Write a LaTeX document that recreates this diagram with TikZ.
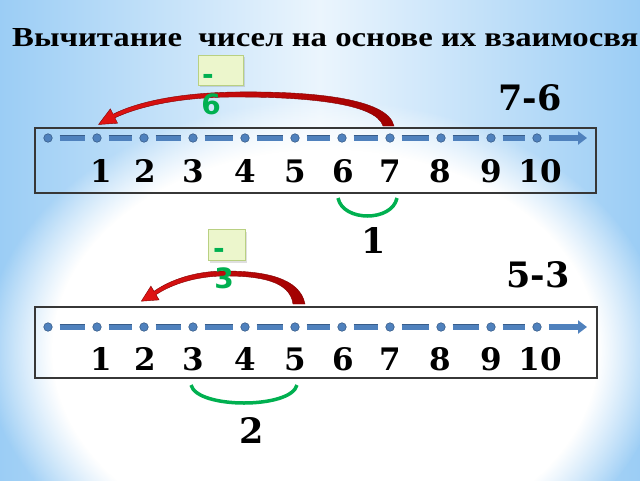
\documentclass[tikz,border=0pt]{standalone}
\usepackage{fontspec}
\setmainfont{Liberation Serif}
\newfontfamily\numfont{DejaVu Serif}
\newfontfamily\lblfont{DejaVu Sans}
\usetikzlibrary{fadings,arrows.meta,shadows}
\definecolor{bgblue}{RGB}{155,205,245}
\definecolor{linebl}{RGB}{79,129,189}
\definecolor{linebd}{RGB}{56,93,138}
\definecolor{grn}{RGB}{0,176,80}
\definecolor{arrred}{RGB}{160,0,0}
\definecolor{arrlight}{RGB}{225,20,20}
\definecolor{boxfill}{RGB}{236,246,204}
\definecolor{boxdraw}{RGB}{185,208,130}
\definecolor{frame}{RGB}{55,55,55}
\tikzset{
  dotnode/.style={circle, fill=linebl, draw=linebd, line width=0.6pt, inner sep=0pt, minimum size=8.5pt},
  barline/.style={draw=linebd, double=linebl, double distance=5pt, line width=0.6pt, shorten <=7pt, shorten >=7pt},
  lastbar/.style={draw=linebl, line width=6pt, shorten <=7pt, -{Triangle[length=9pt,width=13pt]}},
  numtxt/.style={anchor=base, inner sep=0pt, font=\numfont\bfseries\fontsize{31}{36}\selectfont},
  bigtxt/.style={anchor=base, inner sep=0pt, font=\numfont\bfseries\fontsize{35}{40}\selectfont},
  framebox/.style={draw=frame, line width=1.3pt, rectangle, inner sep=0pt},
  lblbox/.style={draw=boxdraw, fill=boxfill, line width=0.8pt, rectangle, inner sep=0pt, drop shadow={opacity=0.25}},
  grntxt/.style={anchor=base, inner sep=0pt, text=grn, font=\lblfont\bfseries\fontsize{28}{32}\selectfont},
  bracket/.style={draw=grn, line width=3.5pt},
  redarrow/.style={left color=arrlight, right color=arrred, draw=arrred!80!black, line width=0.4pt},
}
\begin{document}
\begin{tikzpicture}[x=1pt,y=-1pt]
\useasboundingbox (0,0) rectangle (640,480);
% background
\fill[bgblue] (0,0) rectangle (640,480);
\shade[left color=bgblue, right color=bgblue, middle color=bgblue!20!white] (0,0) rectangle (640,480);
\fill[white, path fading=circle with fuzzy edge 20 percent] (325,350) ellipse [x radius=340, y radius=250];

% title
\node[anchor=base west, inner sep=0pt] (title) at (12,46)
  {\resizebox{626pt}{18pt}{\bfseries Вычитание\ \ чисел на основе их взаимосвя}};

% ---------- first number line ----------
\node[framebox, minimum width=561pt, minimum height=65pt] (boxA) at (315.5,160.5) {};
\foreach \x [count=\i] in {48,97,144,193,245,295,342,390,441,491,537}
  \node[dotnode] (a\i) at (\x,138) {};
\foreach \i [count=\j from 2] in {1,...,10}
  \draw[barline] (a\i) -- (a\j);
\coordinate (aend) at (587,138);
\draw[lastbar] (a11) -- (aend);
\foreach \x [count=\i] in {101,145,193,245,295,343,390,440,491,540}
  \node[numtxt] (na\i) at (\x,182.5) {\i};

\node[bigtxt] (exA) at (530,110) {7-6};

% red arrow 1
\coordinate (rA1) at (394,126);
\coordinate (rA2) at (383,126);
\shade[redarrow] (rA1) .. controls (388,98) and (310,91) .. (235,92)
  .. controls (175,93) and (135,103) .. (113.1,114.2)
  -- (110.4,108.8) -- (98.5,124.5) -- (117.6,123.2) -- (114.9,117.8)
  .. controls (138,107) and (178,97) .. (235,97)
  .. controls (305,97) and (376,103) .. (rA2) -- cycle;

% label box 1
\node[lblbox, minimum width=45pt, minimum height=30pt] (lbA) at (220.5,70) {};
\node[grntxt] (minA) at (208,84) {-};
\node[grntxt] (sixA) at (211,114) {6};

% green bracket 1
\coordinate (gA1) at (338,198);
\coordinate (gA2) at (397,198);
\draw[bracket] (gA1) .. controls (343,222) and (392,222) .. (gA2);
\node[bigtxt] (resA) at (374,253) {1};

% ---------- second number line ----------
\node[framebox, minimum width=562pt, minimum height=71pt] (boxB) at (316,342.5) {};
\foreach \x [count=\i] in {48,97,144,193,245,295,342,390,441,491,537}
  \node[dotnode] (b\i) at (\x,327) {};
\foreach \i [count=\j from 2] in {1,...,10}
  \draw[barline] (b\i) -- (b\j);
\coordinate (bend) at (587,327);
\draw[lastbar] (b11) -- (bend);
\foreach \x [count=\i] in {101,145,193,245,295,343,390,440,491,540}
  \node[numtxt] (nb\i) at (\x,370) {\i};

\node[bigtxt] (exB) at (538,287) {5-3};

% red arrow 2
\coordinate (rB1) at (305,304);
\coordinate (rB2) at (293,304);
\shade[redarrow] (rB1) .. controls (300,278) and (265,271) .. (225,271)
  .. controls (195,271) and (170,280) .. (154,291.3)
  -- (150.9,286.1) -- (141.3,301.2) -- (159.1,299.9) -- (156,294.7)
  .. controls (172,284) and (197,276) .. (225,276)
  .. controls (260,276) and (290,281) .. (rB2) -- cycle;

% label box 2
\node[lblbox, minimum width=37pt, minimum height=31pt] (lbB) at (226.5,245) {};
\node[grntxt] (minB) at (219,258) {-};
\node[grntxt] (threeB) at (224,288) {3};

% green bracket 2
\coordinate (gB1) at (191,385);
\coordinate (gB2) at (297,385);
\draw[bracket] (gB1) .. controls (197,409) and (291,409) .. (gB2);
\node[bigtxt] (resB) at (252,443) {2};
\end{tikzpicture}
\end{document}
